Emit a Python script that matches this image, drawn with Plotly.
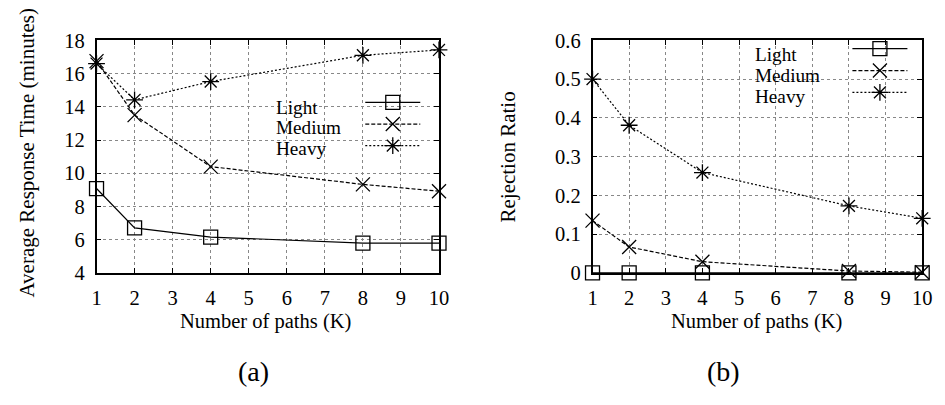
import plotly.graph_objects as go

# ---- data ----
paths = [1, 2, 4, 8, 10]
series_names = ["Light", "Medium", "Heavy"]
resp_light = [9.08, 6.71, 6.16, 5.8, 5.8]
resp_medium = [16.75, 13.5, 10.4, 9.33, 8.92]
resp_heavy = [16.6, 14.42, 15.52, 17.1, 17.42]
rej_light = [0, 0, 0, 0, 0]
rej_medium = [0.135, 0.067, 0.029, 0.005, 0.002]
rej_heavy = [0.5, 0.381, 0.259, 0.173, 0.141]
x_ticks = [1, 2, 3, 4, 5, 6, 7, 8, 9, 10]
y1_ticks = [4, 6, 8, 10, 12, 14, 16, 18]
y2_ticks = [0, 0.1, 0.2, 0.3, 0.4, 0.5, 0.6]
y2_ticktext = ["0", "0.1", "0.2", "0.3", "0.4", "0.5", "0.6"]

FONT = "Times New Roman, Liberation Serif, serif"
W, H = 945, 405

styles = {
    "Light": dict(dash="solid", symbol="square-open"),
    "Medium": dict(dash="4px,2px", symbol="x-thin-open"),
    "Heavy": dict(dash="2px,2px", symbol="asterisk-open"),
}

fig = go.Figure()
left = [resp_light, resp_medium, resp_heavy]
right = [rej_light, rej_medium, rej_heavy]
for name, ys in zip(series_names, left):
    st = styles[name]
    fig.add_trace(go.Scatter(
        x=paths, y=ys, mode="lines+markers", name=" ", xaxis="x", yaxis="y",
        line=dict(color="black", width=1.2, dash=st["dash"]),
        marker=dict(symbol=st["symbol"], size=14, color="black",
                    line=dict(color="black", width=1.3)),
        cliponaxis=False, legend="legend", showlegend=True))
for name, ys in zip(series_names, right):
    st = styles[name]
    fig.add_trace(go.Scatter(
        x=paths, y=ys, mode="lines+markers", name=" ", xaxis="x2", yaxis="y2",
        line=dict(color="black", width=1.2, dash=st["dash"]),
        marker=dict(symbol=st["symbol"], size=14, color="black",
                    line=dict(color="black", width=1.3)),
        cliponaxis=False, legend="legend2", showlegend=True))

def px(x):
    return x / W

def py(y):
    return 1 - y / H

ydom = [py(277), py(31)]
axis_common = dict(
    showline=True, linecolor="black", linewidth=1.5, mirror="allticks",
    ticks="inside", ticklen=5, tickcolor="black", tickwidth=1,
    showgrid=True, gridcolor="#888", griddash="dot", gridwidth=1,
    zeroline=False, tickfont=dict(family=FONT, size=20.5, color="black"),
    ticklabelstandoff=6,
)

fig.update_layout(
    width=W, height=H, margin=dict(l=0, r=0, t=0, b=0),
    paper_bgcolor="white", plot_bgcolor="white",
    font=dict(family=FONT, size=20, color="black"),
    xaxis=dict(domain=[px(93), px(441)], range=[1, 10], tickvals=x_ticks,
               anchor="y", **axis_common),
    yaxis=dict(domain=ydom, range=[4, 18], tickvals=y1_ticks, anchor="x",
               **axis_common),
    xaxis2=dict(domain=[px(597), px(932)], range=[1, 10], tickvals=x_ticks,
                anchor="y2", **axis_common),
    yaxis2=dict(domain=ydom, range=[0, 0.6], tickvals=y2_ticks,
                ticktext=y2_ticktext, anchor="x2", **axis_common),
    legend=dict(x=px(361), y=py(80), xanchor="left", yanchor="top",
                bgcolor="rgba(0,0,0,0)", itemwidth=55,
                font=dict(family=FONT, size=14.3), tracegroupgap=0,
                itemclick=False),
    legend2=dict(x=px(856), y=py(23), xanchor="left", yanchor="top",
                 bgcolor="rgba(0,0,0,0)", itemwidth=55,
                 font=dict(family=FONT, size=14.5), tracegroupgap=0,
                 itemclick=False),
)

shapes = [
    dict(type="rect", xref="paper", yref="paper", x0=px(272), x1=px(427),
         y0=py(157), y1=py(88), fillcolor="white", line=dict(width=0),
         layer="between"),
    dict(type="rect", xref="paper", yref="paper", x0=px(758), x1=px(912),
         y0=py(100), y1=py(33), fillcolor="white", line=dict(width=0),
         layer="between"),
]
fig.update_layout(shapes=shapes)

ann = []
for i, name in enumerate(series_names):
    ann.append(dict(text=name, x=px(274), y=py(102 + 21.5 * i), xref="paper",
                    yref="paper", xanchor="left", yanchor="middle",
                    showarrow=False, borderpad=0,
                    font=dict(family=FONT, size=19.2)))
    ann.append(dict(text=name, x=px(761), y=py(46 + 22 * i), xref="paper",
                    yref="paper", xanchor="left", yanchor="middle",
                    showarrow=False, borderpad=0,
                    font=dict(family=FONT, size=19.2)))
ann += [
    dict(text="Average Response Time (minutes)", x=px(22), y=py(150),
         textangle=-90, xref="paper", yref="paper", showarrow=False,
         xanchor="center", yanchor="middle", font=dict(family=FONT, size=21)),
    dict(text="Rejection Ratio", x=px(511), y=py(154), textangle=-90,
         xref="paper", yref="paper", showarrow=False, xanchor="center",
         yanchor="middle", font=dict(family=FONT, size=21)),
    dict(text="Number of paths (K)", x=px(265), y=py(328), xref="paper",
         yref="paper", showarrow=False, xanchor="center", yanchor="middle",
         font=dict(family=FONT, size=20.5)),
    dict(text="Number of paths (K)", x=px(764), y=py(328), xref="paper",
         yref="paper", showarrow=False, xanchor="center", yanchor="middle",
         font=dict(family=FONT, size=20.5)),
    dict(text="(a)", x=px(253), y=py(381), xref="paper", yref="paper",
         showarrow=False, xanchor="center", yanchor="middle",
         font=dict(family=FONT, size=28)),
    dict(text="(b)", x=px(730), y=py(381), xref="paper", yref="paper",
         showarrow=False, xanchor="center", yanchor="middle",
         font=dict(family=FONT, size=28)),
]
fig.update_layout(annotations=ann)

fig.write_html("out.html")
